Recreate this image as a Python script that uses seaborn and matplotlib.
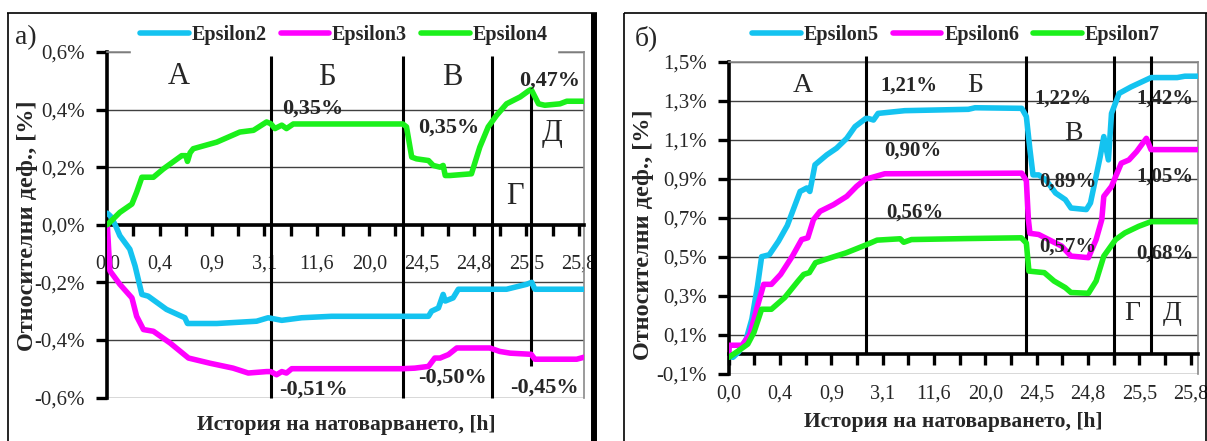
import numpy as np
import pandas as pd
import matplotlib
matplotlib.use("Agg")
import matplotlib.pyplot as plt
from matplotlib.lines import Line2D
from matplotlib.ticker import FuncFormatter
import seaborn as sns

sns.set_theme(style="white")
plt.rcParams["font.family"] = ["Liberation Serif", "DejaVu Serif"]

# ---------------- data ----------------
# category axis: one label per step of the loading history
hour_labels = ["0,0", "0,4", "0,9", "3,1", "11,6", "20,0", "24,5", "24,8", "25,5", "25,8"]

# panel а) — positions along the category axis and strains in %
eps2_pos = [0, 0.06, 0.15, 0.24, 0.43, 0.53, 0.66, 0.78, 1.13, 1.48, 1.53, 2.09, 2.85, 3.07, 3.33,
            3.71, 4.28, 6.13, 6.19, 6.32, 6.41, 6.45, 6.60, 6.70, 7.62, 8.00, 8.10, 8.16, 9.10]
eps2_val = [0.04, 0.03, 0.0, -0.038, -0.085, -0.143, -0.242, -0.248, -0.294, -0.323, -0.343, -0.343,
            -0.335, -0.323, -0.332, -0.323, -0.318, -0.318, -0.30, -0.289, -0.242, -0.265, -0.254,
            -0.224, -0.224, -0.207, -0.20, -0.224, -0.224]

eps3_pos = [0, 0.03, 0.05, 0.24, 0.47, 0.56, 0.69, 0.88, 1.20, 1.55, 1.96, 2.40, 2.69, 3.04, 3.12,
            3.23, 3.33, 3.42, 3.52, 5.64, 5.87, 6.13, 6.25, 6.35, 6.51, 6.67, 7.30, 7.49, 7.69, 8.09,
            8.16, 8.96, 9.10]
eps3_val = [0.0, -0.10, -0.16, -0.207, -0.254, -0.318, -0.364, -0.37, -0.411, -0.463, -0.481, -0.498,
            -0.515, -0.51, -0.51, -0.521, -0.51, -0.515, -0.50, -0.50, -0.498, -0.492, -0.463, -0.463,
            -0.451, -0.428, -0.428, -0.44, -0.446, -0.45, -0.467, -0.467, -0.46]

eps4_pos = [0, 0.24, 0.47, 0.56, 0.66, 0.88, 1.07, 1.42, 1.50, 1.53, 1.58, 1.64, 2.09, 2.53, 2.79,
            3.04, 3.12, 3.20, 3.33, 3.42, 3.55, 5.64, 5.71, 5.81, 5.90, 6.13, 6.22, 6.35, 6.41, 6.45,
            6.54, 6.95, 7.11, 7.27, 7.43, 7.62, 7.88, 8.04, 8.09, 8.23, 8.35, 8.64, 8.77, 9.10]
eps4_val = [0.0, 0.043, 0.072, 0.113, 0.165, 0.165, 0.194, 0.24, 0.24, 0.22, 0.25, 0.264, 0.287,
            0.322, 0.328, 0.357, 0.351, 0.334, 0.346, 0.334, 0.35, 0.35, 0.34, 0.235, 0.229, 0.223,
            0.206, 0.20, 0.206, 0.171, 0.171, 0.177, 0.27, 0.34, 0.38, 0.42, 0.444, 0.465, 0.47,
            0.42, 0.415, 0.42, 0.429, 0.429]

# panel б)
eps5_pos = [0, 0.08, 0.19, 0.34, 0.45, 0.56, 0.64, 0.79, 0.97, 1.14, 1.39, 1.52, 1.58, 1.68, 1.91,
            2.10, 2.30, 2.46, 2.67, 2.72, 2.82, 2.91, 3.43, 4.67, 4.80, 5.71, 5.80, 5.87, 5.93, 6.04,
            6.18, 6.37, 6.56, 6.67, 6.97, 7.05, 7.24, 7.31, 7.40, 7.46, 7.61, 7.84, 8.23, 8.74, 8.89,
            9.15]
eps5_val = [-0.01, -0.017, 0.01, 0.077, 0.18, 0.35, 0.50, 0.51, 0.58, 0.66, 0.835, 0.853, 0.835,
            0.972, 1.023, 1.057, 1.108, 1.168, 1.21, 1.21, 1.202, 1.236, 1.25, 1.257, 1.265, 1.262,
            1.22, 1.05, 0.92, 0.92, 0.895, 0.827, 0.793, 0.75, 0.742, 0.776, 1.014, 1.117, 0.997,
            1.236, 1.339, 1.372, 1.42, 1.42, 1.427, 1.427]

eps6_pos = [0, 0.01, 0.26, 0.41, 0.56, 0.68, 0.83, 1.01, 1.24, 1.42, 1.54, 1.65, 1.78, 2.04, 2.30,
            2.49, 2.67, 2.75, 3.04, 5.71, 5.80, 5.84, 5.87, 6.04, 6.49, 6.67, 7.01, 7.16, 7.27, 7.31,
            7.46, 7.65, 7.80, 7.95, 8.14, 8.23, 9.15]
eps6_val = [0.0, 0.045, 0.045, 0.10, 0.247, 0.358, 0.358, 0.409, 0.503, 0.588, 0.597, 0.69, 0.733,
            0.767, 0.81, 0.861, 0.90, 0.904, 0.926, 0.929, 0.89, 0.69, 0.62, 0.614, 0.554, 0.503,
            0.495, 0.588, 0.69, 0.81, 0.861, 0.98, 0.997, 1.04, 1.108, 1.05, 1.05]

eps7_pos = [0, 0.19, 0.37, 0.49, 0.64, 0.83, 1.09, 1.35, 1.46, 1.57, 1.69, 1.99, 2.29, 2.67, 2.89,
            3.34, 3.41, 3.56, 4.61, 5.70, 5.80, 5.85, 6.15, 6.34, 6.56, 6.67, 7.01, 7.16, 7.31, 7.54,
            7.72, 7.99, 8.23, 9.15]
eps7_val = [-0.017, 0.017, 0.051, 0.111, 0.23, 0.23, 0.29, 0.375, 0.409, 0.418, 0.469, 0.495, 0.52,
            0.56, 0.585, 0.592, 0.574, 0.588, 0.593, 0.597, 0.57, 0.426, 0.418, 0.375, 0.341, 0.316,
            0.312, 0.375, 0.503, 0.588, 0.622, 0.656, 0.68, 0.68]

# stage boundaries (А|Б, Б|В, В|Г, Г|Д) on the category axis
left_stage_pos = [3.12, 5.64, 7.34, 8.09]
right_stage_pos = [2.67, 5.80, 7.51, 8.23]

left_yticks = [-0.6, -0.4, -0.2, 0.0, 0.2, 0.4, 0.6]
right_yticks = [-0.1, 0.1, 0.3, 0.5, 0.7, 0.9, 1.1, 1.3, 1.5]

# stage letters and value notes: (text, position, strain)
left_letters = [("А", 1.37, 0.514), ("Б", 4.19, 0.512), ("В", 6.59, 0.512),
                ("Г", 7.78, 0.097), ("Д", 8.48, 0.318)]
left_notes = [("0,35%", 3.92, 0.405), ("0,35%", 6.52, 0.336), ("0,47%", 8.45, 0.499),
              ("-0,51%", 3.93, -0.571), ("-0,50%", 6.59, -0.531), ("-0,45%", 8.35, -0.564)]
right_letters = [("А", 1.44, 1.381), ("Б", 4.80, 1.381), ("В", 6.71, 1.133),
                 ("Г", 7.87, 0.208), ("Д", 8.65, 0.208)]
right_notes = [("1,21%", 3.51, 1.381), ("0,90%", 3.58, 1.044), ("0,56%", 3.63, 0.724),
               ("1,22%", 6.52, 1.313), ("0,89%", 6.61, 0.884), ("0,57%", 6.61, 0.550),
               ("1,42%", 8.50, 1.313), ("1,05%", 8.50, 0.910), ("0,68%", 8.50, 0.516)]

CYAN, MAGENTA, LIME = "#14C3F0", "#FF00FF", "#1BF01B"

W, H = 1207, 441
fig = plt.figure(figsize=(W / 100, H / 100), dpi=100)


def fx(px):
    return px / W


def fy(py):
    return 1 - py / H


def pct(v, _=None):
    if abs(v) < 1e-9:
        v = 0.0
    return f"{v:.1f}%".replace(".", ",")


def long_frame(series):
    return pd.concat([pd.DataFrame({"pos": p, "val": v, "series": n})
                      for n, (p, v) in series.items()], ignore_index=True)


def draw_panel(ax, series, palette, xmax, yticks, stage_pos, stage_spans,
               letters, notes, letter_size, note_size, label_pad, legend_center):
    df = long_frame(series)
    sns.lineplot(data=df, x="pos", y="val", hue="series", palette=palette,
                 sort=False, estimator=None, lw=4, ax=ax, zorder=3)
    ax.set_xlabel("")
    ax.set_ylabel("")
    ax.set_xlim(0, xmax)
    ax.set_ylim(yticks[0], yticks[-1])

    ax.set_yticks(yticks)
    ax.yaxis.set_major_formatter(FuncFormatter(pct))
    ax.set_xticks(range(len(hour_labels)))
    ax.set_xticklabels(hour_labels)
    ax.set_xticks(np.arange(0.5, len(hour_labels) - 0.5, 1.0), minor=True)

    ax.yaxis.grid(True, color="#404040", lw=1.0, zorder=1)
    ax.xaxis.grid(False)

    ax.spines["bottom"].set_position(("data", 0))
    for s in ("left", "bottom"):
        ax.spines[s].set_color("black")
        ax.spines[s].set_linewidth(2.6)
    for s in ("top", "right"):
        ax.spines[s].set_color("#8a8a8a")
        ax.spines[s].set_linewidth(1.2)

    ax.tick_params(axis="x", which="both", direction="out", length=8, width=2.4,
                   color="black", labelsize=14.5, pad=label_pad, bottom=True)
    ax.tick_params(axis="y", which="major", direction="out", length=8, width=2.4,
                   color="black", labelsize=15, pad=8, left=True)

    for x, (y0, y1) in zip(stage_pos, stage_spans):
        ax.vlines(x, y0, y1, colors="black", lw=2.2, zorder=2.6, clip_on=False)

    for t, x, y in letters:
        ax.text(x, y, t, fontsize=letter_size, ha="center", va="center", zorder=5)
    for t, x, y in notes:
        ax.text(x, y, t, fontsize=note_size, fontweight="bold", ha="center",
                va="center", zorder=5)

    handles, labels = ax.get_legend_handles_labels()
    for h in handles:
        h.set_linewidth(4)
    leg = ax.legend(handles, labels, ncol=3, loc="center",
                    bbox_to_anchor=(fx(legend_center[0]), fy(legend_center[1])),
                    bbox_transform=fig.transFigure, frameon=True, facecolor="white",
                    edgecolor="white", framealpha=1, fancybox=False,
                    handlelength=2.4, handletextpad=0.15, columnspacing=0.7,
                    borderpad=0.45, prop={"weight": "bold", "size": 14.5})
    leg.set_zorder(10)


axL = fig.add_axes([fx(107.3), fy(397.5), fx(476.8), 345.5 / H])
axR = fig.add_axes([fx(728.8), fy(373.5), fx(469.4), 311.5 / H])

draw_panel(axL,
           {"Epsilon2": (eps2_pos, eps2_val), "Epsilon3": (eps3_pos, eps3_val),
            "Epsilon4": (eps4_pos, eps4_val)},
           {"Epsilon2": CYAN, "Epsilon3": MAGENTA, "Epsilon4": LIME},
           9.1, left_yticks, left_stage_pos,
           [(-0.6, 0.585), (-0.6, 0.585), (-0.6, 0.585), (-0.49, 0.47)],
           left_letters, left_notes, 22, 16, 13.5, (344, 35))

draw_panel(axR,
           {"Epsilon5": (eps5_pos, eps5_val), "Epsilon6": (eps6_pos, eps6_val),
            "Epsilon7": (eps7_pos, eps7_val)},
           {"Epsilon5": CYAN, "Epsilon6": MAGENTA, "Epsilon7": LIME},
           9.15, right_yticks, right_stage_pos,
           [(0.0, 1.53)] * 4,
           right_letters, right_notes, 20, 15, 14, (956, 35))

# panel frames
def fig_line(xs, ys, lw, color="black"):
    fig.add_artist(Line2D([fx(x) for x in xs], [fy(y) for y in ys], lw=lw,
                          color=color, transform=fig.transFigure, solid_capstyle="butt"))


fig_line([7.5, 7.5], [13, 445], 1.2)
fig_line([7, 597], [13, 13], 1.2)
fig_line([594, 594], [13, 445], 4.3)
fig_line([624, 624], [13, 445], 1.2)
fig_line([624, 1207], [13, 13], 1.2)
fig_line([1205.5, 1205.5], [13, 445], 1.2)

# panel tags and axis titles
fig.text(fx(26), fy(38), "а)", fontsize=20, ha="center", va="center")
fig.text(fx(646), fy(38), "б)", fontsize=20, ha="center", va="center")
ylab = "Относителни деф., [%]"
xlab = "История на натоварването, [h]"
fig.text(fx(28), fy(226), ylab, rotation=90, fontsize=17.5, fontweight="bold",
         ha="center", va="center")
fig.text(fx(644), fy(235), ylab, rotation=90, fontsize=17.5, fontweight="bold",
         ha="center", va="center")
fig.text(fx(346), fy(425), xlab, fontsize=15.5, fontweight="bold", ha="center", va="center")
fig.text(fx(953), fy(422), xlab, fontsize=15.5, fontweight="bold", ha="center", va="center")

fig.savefig("out.png", dpi=100, facecolor="white")
